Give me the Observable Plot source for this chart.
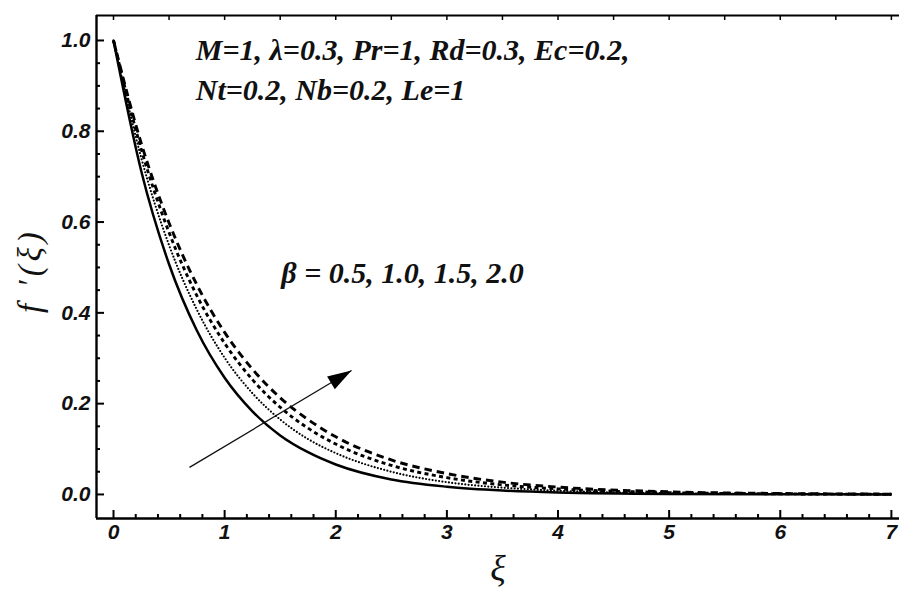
<!DOCTYPE html>
<html>
<head>
<meta charset="utf-8">
<script src="https://cdn.jsdelivr.net/npm/d3@7"></script>
<script src="https://cdn.jsdelivr.net/npm/@observablehq/plot@0.6"></script>
<style>
  html, body { margin: 0; padding: 0; background: #fff; }
  #chart svg { display: block; }
</style>
</head>
<body>
<div id="chart"></div>
<script>
// Velocity profile f'(ξ) for four values of the Casson parameter β
const xi = [0, 0.25, 0.5, 0.75, 1, 1.25, 1.5, 1.75, 2, 2.5, 3, 3.5, 4, 5, 6, 7];
const fBeta05 = [1, 0.712, 0.507, 0.361, 0.257, 0.183, 0.130, 0.093, 0.066, 0.033, 0.017, 0.0086, 0.0043, 0.0011, 0.0003, 0.0001];
const fBeta10 = [1, 0.741, 0.549, 0.407, 0.301, 0.223, 0.165, 0.122, 0.091, 0.050, 0.027, 0.015, 0.0082, 0.0025, 0.0007, 0.0002];
const fBeta15 = [1, 0.760, 0.577, 0.438, 0.333, 0.253, 0.192, 0.146, 0.111, 0.064, 0.037, 0.021, 0.0123, 0.0041, 0.0014, 0.0005];
const fBeta20 = [1, 0.773, 0.598, 0.462, 0.357, 0.276, 0.213, 0.165, 0.127, 0.076, 0.046, 0.027, 0.0162, 0.0058, 0.0021, 0.0007];

const xTicks = [0, 1, 2, 3, 4, 5, 6, 7];
const yTicks = [0, 0.2, 0.4, 0.6, 0.8, 1.0];

// annotation anchors, in data units
const paramLines = ["M=1, \u03bb=0.3, Pr=1, Rd=0.3, Ec=0.2,", "Nt=0.2, Nb=0.2, Le=1"];
const paramX = [0.74, 0.74];
const paramY = [0.956, 0.868];
const betaLabel = "\u03b2 = 0.5, 1.0, 1.5, 2.0";
const betaLabelPos = [1.51, 0.465];
const arrowFrom = [0.684, 0.0595];
const arrowTo = [2.142, 0.273];

const width = 899, height = 591;
const margin = {left: 96, right: 0, top: 15, bottom: 73};
const xDomain = [-0.153, 7.073];
const yDomain = [-0.053, 1.055];
const innerW = width - margin.left - margin.right;
const innerH = height - margin.top - margin.bottom;

const series = [
  {values: fBeta05, strokeWidth: 2.5, dash: null, cap: "butt"},
  {values: fBeta10, strokeWidth: 2.2, dash: "0,3.3", cap: "round"},
  {values: fBeta15, strokeWidth: 2.9, dash: "4,3.4", cap: "butt"},
  {values: fBeta20, strokeWidth: 2.9, dash: "7.5,5", cap: "butt"}
];

const rows = s => xi.map((x, i) => ({x, y: s.values[i]}));

// minor tick positions
const range = (a, b, step) => d3.range(Math.round((b - a) / step) + 1).map(i => +(a + i * step).toFixed(4));
const xMinor = range(0, 7, 0.2).filter(v => !xTicks.includes(v));
const xTopTicks = range(0, 7, 0.5);
const yMinor = range(0, 1, 0.05).filter(v => !yTicks.some(t => Math.abs(t - v) < 1e-6));

// arrow head direction in screen space
const sx = v => margin.left + (v - xDomain[0]) / (xDomain[1] - xDomain[0]) * innerW;
const sy = v => margin.top + (yDomain[1] - v) / (yDomain[1] - yDomain[0]) * innerH;
const headAngle = Math.atan2(sx(arrowTo[0]) - sx(arrowFrom[0]), -(sy(arrowTo[1]) - sy(arrowFrom[1]))) * 180 / Math.PI;
const arrowHead = {
  draw(context) {
    context.moveTo(0, 0);
    context.lineTo(-7.5, 24);
    context.lineTo(7.5, 24);
    context.closePath();
  }
};

const tickFont = {fontFamily: "'Liberation Sans', Arial, sans-serif", fontWeight: "bold", fontStyle: "italic", fontSize: 21, fill: "#111"};
const noteFont = {fontFamily: "'Liberation Serif', 'Times New Roman', serif", fontWeight: "bold", fontStyle: "italic", fontSize: 30, fill: "#111"};
const labelFont = {fontFamily: "'Liberation Serif', 'Times New Roman', serif", fontStyle: "italic", fill: "#111"};

const chart = Plot.plot({
  width, height,
  marginLeft: margin.left, marginRight: margin.right, marginTop: margin.top, marginBottom: margin.bottom,
  x: {domain: xDomain, axis: null},
  y: {domain: yDomain, axis: null},
  marks: [
    // curves
    ...series.map(s => Plot.line(rows(s), {
      x: "x", y: "y", curve: "monotone-x", stroke: "#000",
      strokeWidth: s.strokeWidth, strokeDasharray: s.dash, strokeLinecap: s.cap
    })),
    // arrow
    Plot.link([0], {x1: () => arrowFrom[0], y1: () => arrowFrom[1], x2: () => arrowTo[0], y2: () => arrowTo[1], stroke: "#111", strokeWidth: 1.3}),
    Plot.dot([0], {x: () => arrowTo[0], y: () => arrowTo[1], symbol: arrowHead, rotate: headAngle, fill: "#000", stroke: "none", r: 5}),
    // frame
    Plot.ruleX([xDomain[0]], {stroke: "#000", strokeWidth: 2.4}),
    Plot.ruleY([yDomain[0]], {stroke: "#000", strokeWidth: 2.4}),
    Plot.ruleY([yDomain[1]], {stroke: "#000", strokeWidth: 2}),
    // bottom ticks
    Plot.tickX(xTicks, {x: d => d, insetTop: innerH - 8, stroke: "#000", strokeWidth: 2}),
    Plot.tickX(xMinor, {x: d => d, insetTop: innerH - 4, stroke: "#000", strokeWidth: 2}),
    // top ticks
    Plot.tickX(xTopTicks, {x: d => d, insetBottom: innerH - 5, stroke: "#000", strokeWidth: 1.5}),
    // left ticks
    Plot.tickY(yTicks, {y: d => d, insetRight: innerW - 8, stroke: "#000", strokeWidth: 2}),
    Plot.tickY(yMinor, {y: d => d, insetRight: innerW - 4, stroke: "#000", strokeWidth: 2}),
    // tick labels
    Plot.text(xTicks, {x: d => d, frameAnchor: "bottom", dy: 20, text: d => String(d), ...tickFont}),
    Plot.text(yTicks, {y: d => d, frameAnchor: "left", dx: -6, textAnchor: "end", text: d => d.toFixed(1), ...tickFont}),
    // axis labels
    Plot.text(["\u03be"], {frameAnchor: "bottom", dy: 61, fontSize: 36, ...labelFont}),
    Plot.text(["f \u2032(\u03be)"], {frameAnchor: "left", dx: -66, dy: 46, rotate: -90, textAnchor: "start", fontSize: 33, ...labelFont}),
    // annotations
    Plot.text(paramLines, {x: (d, i) => paramX[i], y: (d, i) => paramY[i], text: d => d, textAnchor: "start", lineAnchor: "bottom", ...noteFont}),
    Plot.text([betaLabel], {x: () => betaLabelPos[0], y: () => betaLabelPos[1], text: d => d, textAnchor: "start", lineAnchor: "bottom", ...noteFont})
  ]
});

document.getElementById("chart").appendChild(chart);

// widen the spacing of the rotated axis title
d3.select(chart).selectAll("text").filter(function() { return this.textContent === "f \u2032(\u03be)"; })
  .attr("letter-spacing", 4);
</script>
</body>
</html>
